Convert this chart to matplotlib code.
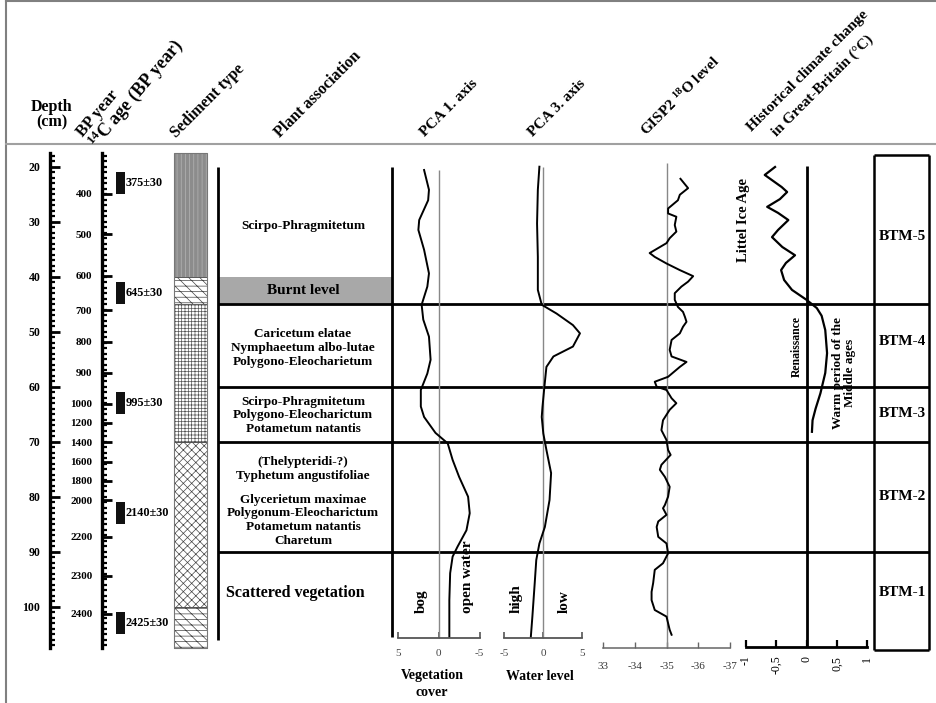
import matplotlib
matplotlib.use('Agg')
import matplotlib.pyplot as plt
import numpy as np

# Times-like bold serif everywhere
plt.rcParams['font.family'] = ['Liberation Serif', 'DejaVu Serif']
plt.rcParams['font.weight'] = 'bold'
plt.rcParams['mathtext.fontset'] = 'custom'
plt.rcParams['mathtext.rm'] = 'Liberation Serif:bold'
plt.rcParams['mathtext.it'] = 'Liberation Serif:bold:italic'
plt.rcParams['mathtext.bf'] = 'Liberation Serif:bold'
plt.rcParams['hatch.linewidth'] = 0.5

#-----------------------------------------------------------------------
# data
depth_ticks = [20, 30, 40, 50, 60, 70, 80, 90, 100]

bp_years = [400, 500, 600, 700, 800, 900, 1000, 1200, 1400, 1600, 1800, 2000, 2200, 2300, 2400]
bp_depths = [24.9, 32.3, 39.8, 46.1, 51.8, 57.5, 63.1, 66.6, 70.1, 73.6, 77.1, 80.6, 87.3, 94.4, 101.3]

c14_labels = ['375±30', '645±30', '995±30', '2140±30', '2425±30']
c14_top = [21, 41, 61, 81, 101]
c14_bot = [25, 45, 65, 85, 105]

sed_top = [17.5, 40, 45, 70, 100]
sed_bot = [40, 45, 70, 100, 107.5]

plant_texts = ['Scirpo-Phragmitetum',
               'Caricetum elatae\nNymphaeetum albo-lutae\nPolygono-Eleocharietum',
               'Scirpo-Phragmitetum\nPolygono-Eleocharictum\nPotametum natantis',
               '(Thelypteridi-?)\nTyphetum angustifoliae',
               'Glycerietum maximae\nPolygonum-Eleocharictum\nPotametum natantis\nCharetum']
plant_depths = [30.8, 53.0, 65.2, 75.0, 84.3]
burnt_top, burnt_bot = 40, 45

zone_bounds = [45, 60, 70, 90]
zone_names = ['BTM-5', 'BTM-4', 'BTM-3', 'BTM-2', 'BTM-1']
zone_label_depths = [32.7, 51.8, 64.8, 80.0, 97.5]

pca1_depth = [20.6, 24.2, 26.1, 29.7, 31.5, 35.1, 39.4, 41.8, 45.1, 47.8, 50.9, 55.1, 57.6, 60.6,
              63.6, 65.5, 68.4, 70.3, 73.3, 76.4, 80.0, 83.0, 86.1, 89.1, 90.9, 93.9, 98.8, 105.5]
pca1_vals = [1.8, 1.2, 1.3, 2.4, 2.5, 1.8, 1.2, 1.4, 2.1, 1.9, 1.2, 1.0, 1.4, 2.2,
             2.2, 1.8, 0.4, -1.1, -1.7, -2.5, -3.6, -3.8, -3.4, -2.3, -1.7, -1.4, -1.3, -1.3]

pca3_depth = [20.0, 24.2, 30.3, 36.4, 42.4, 45.1, 46.7, 48.8, 50.3, 52.7, 54.5, 56.4, 60.6,
              63.6, 65.5, 68.5, 71.5, 75.7, 80.6, 85.5, 88.5, 91.5, 95.7, 101.8, 105.5]
pca3_vals = [-0.5, -0.7, -0.8, -0.7, -0.7, -0.2, 1.7, 3.8, 4.7, 3.8, 1.3, 0.4, 0.1,
             -0.1, -0.2, 0.0, 0.4, 1.0, 0.8, 0.2, -0.5, -0.9, -1.1, -1.4, -1.6]

gisp_depth = [22.2, 23.9, 25.1, 26.1, 27.6, 28.5, 29.1, 30.6, 31.8, 33.0, 33.9, 35.7, 36.4, 37.6,
              38.8, 39.9, 40.9, 41.8, 43.0, 44.2, 45.5, 46.4, 47.3, 48.2, 49.1, 50.3, 51.5, 53.3,
              54.5, 55.5, 56.4, 58.2, 59.1, 60.0, 60.6, 62.1, 63.0, 64.2, 66.1, 67.9, 69.7, 71.5,
              72.4, 74.2, 75.1, 76.4, 78.2, 80.0, 81.5, 82.1, 83.3, 84.5, 85.5, 87.3, 88.5, 90.3,
              92.1, 93.3, 95.7, 97.3, 98.8, 100.6, 101.8, 103.0, 104.2, 105.1]
gisp_vals = [-35.44, -35.68, -35.42, -35.36, -35.05, -35.05, -35.31, -35.26, -35.31, -35.10,
             -35.00, -34.47, -34.63, -35.00, -35.42, -35.84, -35.68, -35.47, -35.26, -35.26,
             -35.36, -35.52, -35.58, -35.63, -35.52, -35.42, -35.16, -35.10, -35.16, -35.63,
             -35.42, -35.05, -34.63, -34.69, -35.00, -35.16, -35.31, -35.10, -34.89, -34.84,
             -35.00, -35.05, -35.13, -34.84, -34.79, -34.95, -35.10, -35.05, -34.95, -34.89,
             -35.00, -34.74, -34.69, -34.74, -35.00, -35.05, -34.89, -34.63, -34.58, -34.53,
             -34.53, -34.63, -35.00, -35.05, -35.10, -35.16]

clim_depth = [20.05, 21.5, 23.7, 24.6, 25.9, 27.3, 28.4, 29.7, 31.5, 32.8, 34.6, 36.1, 37.5,
              38.8, 40.6, 42.4, 44.2, 45.7, 47.1, 49.7, 53.9, 57.5, 61.2, 64.0, 66.1, 68.2]
clim_vals = [-0.52, -0.69, -0.41, -0.32, -0.44, -0.65, -0.47, -0.30, -0.47, -0.57, -0.40, -0.19,
             -0.34, -0.42, -0.37, -0.24, 0.0, 0.17, 0.25, 0.31, 0.34, 0.31, 0.23, 0.15, 0.10, 0.09]

#-----------------------------------------------------------------------
W, H = 936, 703
Y20, PX_CM = 166.7, 5.5          # pixel row of 20 cm, pixels per cm
D_TOP, D_BOT = 15, 112

def ypix(d):
    return Y20 + (d - 20) * PX_CM

def rect(x0, x1):
    return [x0 / W, 1 - ypix(D_BOT) / H, (x1 - x0) / W, (ypix(D_BOT) - ypix(D_TOP)) / H]

fig = plt.figure(figsize=(W / 100, H / 100), dpi=100)

# frame + header
axf = fig.add_axes([0, 0, 1, 1])
axf.set_xlim(0, W)
axf.set_ylim(H, 0)
axf.axis('off')
axf.plot([6, 6], [0, H], color='#808080', lw=1.5)
axf.plot([6, W], [1, 1], color='#808080', lw=1.5)
axf.plot([6, W], [144, 144], color='#a0a0a0', lw=1.5)

axf.text(52, 107, 'Depth', ha='center', va='center', fontsize=11.5)
axf.text(52, 122, '(cm)', ha='center', va='center', fontsize=11.5)
heads = [(83, 137, 50, 12, 'BP year'),
         (96, 149, 50, 13, '$^{\\mathrm{14}}$C age (BP year)'),
         (176, 138, 45, 11.5, 'Sediment type'),
         (280, 138, 45, 11.5, 'Plant association'),
         (425, 137, 45, 11, 'PCA 1. axis'),
         (533, 137, 45, 11, 'PCA 3. axis'),
         (647, 137, 45, 11, 'GISP2 $^{\\mathrm{18}}$O level'),
         (752, 132, 45, 11, 'Historical climate change'),
         (777, 137, 45, 11, 'in Great-Britain (°C)')]
for x, y, r, fs, s in heads:
    axf.text(x, y, s, rotation=r, rotation_mode='anchor', ha='left', va='baseline', fontsize=fs)

axf.text(432, 676, 'Vegetation', ha='center', va='center', fontsize=10)
axf.text(432, 692, 'cover', ha='center', va='center', fontsize=10)
axf.text(540, 676, 'Water level', ha='center', va='center', fontsize=10)

# main axes: x in pixels, y in depth
ax = fig.add_axes(rect(0, W))
ax.set_xlim(0, W)
ax.set_ylim(D_BOT, D_TOP)
ax.axis('off')

# 14C dates
ax.bar(120, np.array(c14_bot) - np.array(c14_top), bottom=c14_top, width=9, color='#111111')
for lab, t, b in zip(c14_labels, c14_top, c14_bot):
    ax.text(126, (t + b) / 2, lab, ha='left', va='center', fontsize=8.8)

# sediment column
sed_face = ['#8c8c8c', 'white', 'white', 'white', 'white']
sed_hatch = ['||||', '\\\\\\---', '+++++', 'xxxx', '\\\\\\---']
sed_edge = ['#b5b5b5', '#444444', '#555555', '#444444', '#444444']
for t, b, fc, hc, ec in zip(sed_top, sed_bot, sed_face, sed_hatch, sed_edge):
    ax.bar(190.5, b - t, bottom=t, width=33, color=fc, hatch=hc, edgecolor=ec, lw=0.6)
ax.bar(190.5, sed_bot[-1] - sed_top[0], bottom=sed_top[0], width=33, fill=False,
       edgecolor='#777777', lw=0.8)

# plant association
ax.vlines(218, 20, 106, color='black', lw=2)
ax.bar(305, burnt_bot - burnt_top, bottom=burnt_top, width=174, color='#a8a8a8')
ax.text(303, (burnt_top + burnt_bot) / 2, 'Burnt level', ha='center', va='center', fontsize=11)
for s, d in zip(plant_texts, plant_depths):
    ax.text(303, d, s, ha='center', va='center', fontsize=9.5, linespacing=1.2)
ax.text(295, 97.5, 'Scattered vegetation', ha='center', va='center', fontsize=11.5)

ax.vlines(392, 20, 105.5, color='black', lw=2)

# zone lines and BTM boxes
ax.hlines(zone_bounds, 218, 929, color='black', lw=2)
ax.vlines([874, 929], 17.9, 107.9, color='black', lw=1.8)
ax.hlines([17.9, 107.9], 874, 929, color='black', lw=1.8)
for s, d in zip(zone_names, zone_label_depths):
    ax.text(902, d, s, ha='center', va='center', fontsize=11)

# rotated labels inside panels
for x, s in [(421, 'bog'), (467, 'open water'), (516, 'high'), (564, 'low')]:
    ax.text(x, 101.2, s, rotation=90, ha='center', va='bottom', fontsize=11)
ax.text(743, 29.7, 'Littel Ice Age', rotation=90, ha='center', va='center', fontsize=10.5)
ax.text(797, 52.7, 'Renaissance', rotation=90, ha='center', va='center', fontsize=8.5)
ax.text(844, 57.5, 'Warm period of the\nMiddle ages', rotation=90, ha='center', va='center',
        fontsize=9.5, linespacing=1.1)

# depth scale
axd = fig.add_axes(rect(50, 60))
axd.set_ylim(D_BOT, D_TOP)
axd.patch.set_alpha(0)
for s in ['top', 'right', 'bottom']:
    axd.spines[s].set_visible(False)
axd.spines['left'].set_bounds(17.5, 107.5)
axd.spines['left'].set_linewidth(2.4)
axd.set_xticks([])
axd.set_yticks(depth_ticks)
axd.set_yticklabels([str(v) for v in depth_ticks])
axd.set_yticks(np.arange(18, 108), minor=True)
axd.tick_params(axis='y', which='major', direction='in', length=7, width=2, pad=7, labelsize=8.5)
axd.tick_params(axis='y', which='minor', direction='in', length=3.5, width=1.6)

# BP year scale
axb = fig.add_axes(rect(102, 112))
axb.set_ylim(D_BOT, D_TOP)
axb.patch.set_alpha(0)
for s in ['top', 'right', 'bottom']:
    axb.spines[s].set_visible(False)
axb.spines['left'].set_bounds(17.5, 107.5)
axb.spines['left'].set_linewidth(2.4)
axb.set_xticks([])
axb.set_yticks(bp_depths)
axb.set_yticklabels([str(v) for v in bp_years])
axb.set_yticks(np.arange(18, 108), minor=True)
axb.tick_params(axis='y', which='major', direction='in', length=7, width=2, pad=7, labelsize=8)
axb.tick_params(axis='y', which='minor', direction='in', length=3.5, width=1.6)


def panel(x0, x1, lo, hi, axis_depth, lw, color):
    a = fig.add_axes(rect(x0, x1))
    a.set_xlim(lo, hi)
    a.set_ylim(D_BOT, D_TOP)
    a.patch.set_alpha(0)
    for s in ['top', 'right', 'left']:
        a.spines[s].set_visible(False)
    a.spines['bottom'].set_position(('data', axis_depth))
    a.spines['bottom'].set_linewidth(lw)
    a.spines['bottom'].set_color(color)
    a.set_yticks([])
    return a

# PCA 1
a1 = panel(398, 479.5, 5, -5, 105.7, 1.3, '#555555')
a1.set_xticks([5, 0, -5])
a1.set_xticklabels(['5', '0', '-5'])
a1.tick_params(axis='x', direction='in', length=4, width=1.2, color='#555555', pad=8,
               labelsize=8, labelcolor='#444444')
for t in a1.get_xticklabels():
    t.set_fontweight('normal')
a1.vlines(0, 20.6, 105.7, color='#888888', lw=1)
a1.plot(pca1_vals, pca1_depth, color='black', lw=1.4, clip_on=False)

# PCA 3
a3 = panel(504.3, 582.3, -5, 5, 105.7, 1.3, '#555555')
a3.set_xticks([-5, 0, 5])
a3.set_xticklabels(['-5', '0', '5'])
a3.tick_params(axis='x', direction='in', length=4, width=1.2, color='#555555', pad=8,
               labelsize=8, labelcolor='#444444')
for t in a3.get_xticklabels():
    t.set_fontweight('normal')
a3.vlines(0, 20, 105.7, color='#888888', lw=1)
a3.plot(pca3_vals, pca3_depth, color='black', lw=1.4, clip_on=False)

# GISP2
ag = panel(603, 730, -33, -37, 107.55, 1.1, '#666666')
ag.set_xticks([-33, -34, -35, -36, -37])
ag.set_xticklabels(['33', '-34', '-35', '-36', '-37'])
ag.tick_params(axis='x', direction='in', length=4, width=1, color='#666666', pad=10,
               labelsize=8, labelcolor='#333333')
for t in ag.get_xticklabels():
    t.set_fontweight('normal')
ag.vlines(-35, 19.3, 107.55, color='#888888', lw=1)
ag.plot(gisp_vals, gisp_depth, color='black', lw=1.4, clip_on=False)

# historical climate
ac = panel(746, 867, -1, 1, 107.4, 2, 'black')
ac.set_xticks([-1, -0.5, 0, 0.5, 1])
ac.set_xticklabels(['-1', '-0,5', '0', '0,5', '1'], rotation=90)
ac.tick_params(axis='x', direction='in', length=5, width=1.6, color='black', pad=6,
               labelsize=8.5)
for t in ac.get_xticklabels():
    t.set_fontweight('normal')
ac.vlines(0, 19.9, 107.4, color='black', lw=2)
ac.plot(clim_vals, clim_depth, color='black', lw=1.6, clip_on=False)

fig.savefig('out.png', dpi=100)
